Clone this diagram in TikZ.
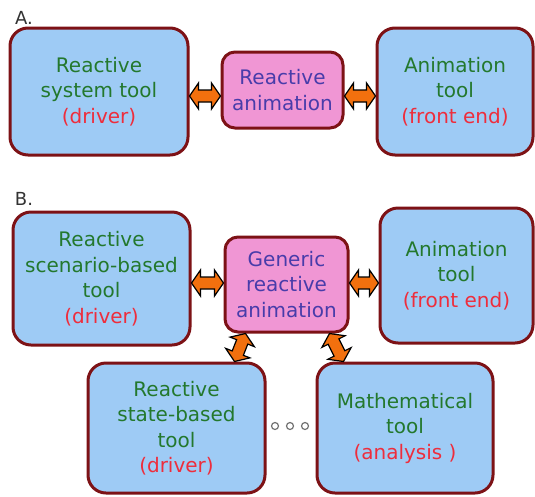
\documentclass[tikz,border=0pt]{standalone}
\usepackage{fontspec}
\setmainfont{DejaVu Sans}
\usetikzlibrary{calc}
\definecolor{boxblue}{RGB}{158,203,245}
\definecolor{boxpink}{RGB}{240,150,212}
\definecolor{rimred}{RGB}{125,18,22}
\definecolor{txtgreen}{RGB}{35,120,45}
\definecolor{txtred}{RGB}{238,45,60}
\definecolor{txtblue}{RGB}{72,60,170}
\definecolor{arrorange}{RGB}{242,112,14}
\newcommand{\dblarr}[3]{%
  \coordinate (#3a) at ($(#1)!9pt!(#2)$);
  \coordinate (#3b) at ($(#2)!9pt!(#1)$);
  \draw[arrsty] (#1) -- ($(#3a)!13pt!90:(#2)$) -- ($(#3a)!6pt!90:(#2)$)
    -- ($(#3b)!6pt!-90:(#1)$) -- ($(#3b)!13pt!-90:(#1)$) -- (#2)
    -- ($(#3b)!13pt!90:(#1)$) -- ($(#3b)!6pt!90:(#1)$)
    -- ($(#3a)!6pt!-90:(#2)$) -- ($(#3a)!13pt!-90:(#2)$) -- cycle;}
\begin{document}
\begin{tikzpicture}[x=1pt,y=-1pt,
  toolbox/.style={draw=rimred, line width=3pt, fill=boxblue, rounded corners=18pt,
    inner sep=0pt, align=center, font=\fontsize{20}{25.5}\selectfont},
  animbox/.style={draw=rimred, line width=3pt, fill=boxpink, rounded corners=13pt,
    inner sep=0pt, align=center, text=txtblue, font=\fontsize{20}{25.5}\selectfont},
  arrsty/.style={draw=black, line width=1.2pt, fill=arrorange, line join=miter},
  partlabel/.style={text=black!80, font=\fontsize{18}{20}\selectfont, inner sep=0pt},
  dot/.style={circle, draw=black!55, line width=1.2pt, fill=white, minimum size=7pt, inner sep=0pt}]
\useasboundingbox (0,0) rectangle (535,496);

% Part A
\node[partlabel] (labA) at (24,18) {A.};
\node[toolbox, minimum width=178pt, minimum height=127pt] (lA) at (99,91.5)
  {\textcolor{txtgreen}{Reactive}\\\textcolor{txtgreen}{system tool}\\\textcolor{txtred}{(driver)}};
\node[animbox, minimum width=121pt, minimum height=76pt] (mA) at (282.5,90)
  {Reactive\\animation};
\node[toolbox, minimum width=156pt, minimum height=127pt] (rA) at (455,91.5)
  {\textcolor{txtgreen}{Animation}\\\textcolor{txtgreen}{tool}\\\textcolor{txtred}{(front end)}};

\coordinate (a1) at (lA.east |- 0,96);
\coordinate (a2) at (mA.west |- 0,96);
\coordinate (a3) at (mA.east |- 0,96);
\coordinate (a4) at (rA.west |- 0,96);
\dblarr{a1}{a2}{arA}
\dblarr{a3}{a4}{arB}

% Part B
\node[partlabel] (labB) at (24,199) {B.};
\node[toolbox, minimum width=177pt, minimum height=133pt] (lB) at (101.5,278.5)
  {\textcolor{txtgreen}{Reactive}\\\textcolor{txtgreen}{scenario-based}\\\textcolor{txtgreen}{tool}\\\textcolor{txtred}{(driver)}};
\node[animbox, minimum width=123pt, minimum height=95pt] (gB) at (286.5,284.5)
  {Generic\\reactive\\animation};
\node[toolbox, minimum width=153pt, minimum height=135pt] (rB) at (456.5,275.5)
  {\textcolor{txtgreen}{Animation}\\\textcolor{txtgreen}{tool}\\\textcolor{txtred}{(front end)}};
\node[toolbox, minimum width=177pt, minimum height=130pt] (bl) at (176.5,428)
  {\textcolor{txtgreen}{Reactive}\\\textcolor{txtgreen}{state-based}\\\textcolor{txtgreen}{tool}\\\textcolor{txtred}{(driver)}};
\node[toolbox, minimum width=176pt, minimum height=130pt] (br) at (405,428)
  {\textcolor{txtgreen}{Mathematical}\\\textcolor{txtgreen}{tool}\\\textcolor{txtred}{(analysis )}};

\node[dot] (d1) at (275,426) {};
\node[dot] (d2) at (290,426) {};
\node[dot] (d3) at (305,426) {};

\coordinate (b1) at (lB.east |- 0,283);
\coordinate (b2) at (gB.west |- 0,283);
\coordinate (b3) at (gB.east |- 0,283);
\coordinate (b4) at (rB.west |- 0,283);
\dblarr{b1}{b2}{arC}
\dblarr{b3}{b4}{arD}

\coordinate (c1) at ($(gB.south west)+(22,0)$);
\coordinate (c2) at ($(bl.north east)+(-32,0)$);
\coordinate (c3) at ($(gB.south east)+(-20,0)$);
\coordinate (c4) at ($(br.north west)+(28,0)$);
\dblarr{c1}{c2}{arE}
\dblarr{c3}{c4}{arF}
\end{tikzpicture}
\end{document}
